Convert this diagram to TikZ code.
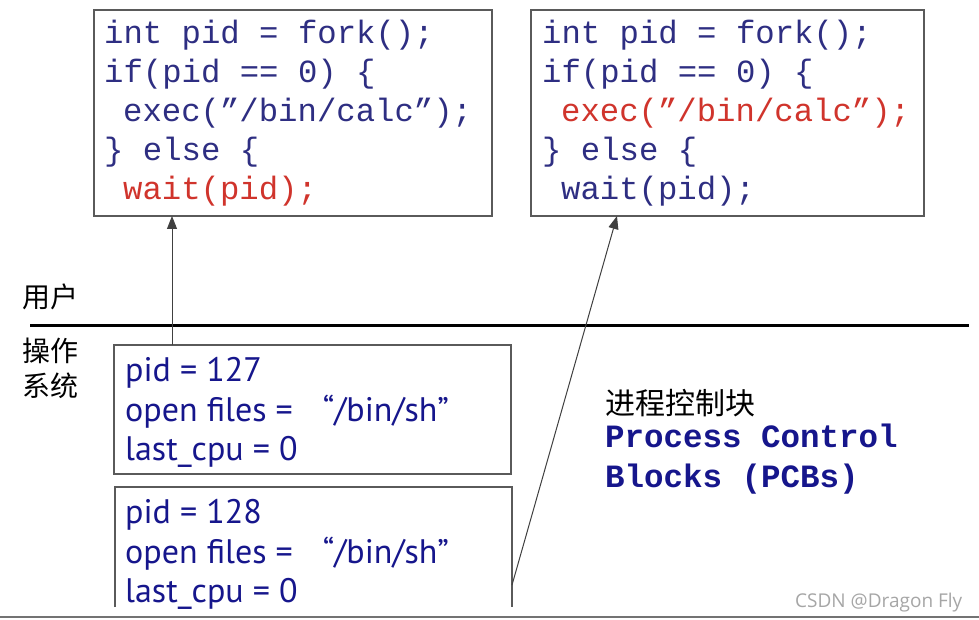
\documentclass[tikz,border=0pt]{standalone}
\usepackage{fontspec}
\setmainfont{Liberation Serif}
\newfontfamily\codefont{Liberation Mono}
\newfontfamily\pcbfont{PT Sans}
\newfontfamily\cjk{Noto Sans CJK SC}
\newfontfamily\wmfont{Open Sans}
\usetikzlibrary{arrows.meta}
\definecolor{codeblue}{HTML}{2E2E82}
\definecolor{codered}{HTML}{D0342C}
\definecolor{pcbblue}{HTML}{16168C}
\definecolor{boxgray}{HTML}{5A5A5A}
\tikzset{
  x=1pt, y=-1pt,
  codebox/.style={draw=boxgray, line width=1.4pt},
  codeline/.style={anchor=base west, inner sep=0pt, font=\codefont\fontsize{32.3}{36}\selectfont, text=codeblue},
  pcbline/.style={anchor=base west, inner sep=0pt, font=\pcbfont\fontsize{34}{38}\selectfont, text=pcbblue},
  cjklabel/.style={anchor=base west, inner sep=0pt, font=\cjk\fontsize{28}{32}\selectfont, text=black},
  pcbtitle/.style={anchor=base west, inner sep=0pt, font=\codefont\bfseries\fontsize{32.5}{36}\selectfont, text=pcbblue},
  arr/.style={draw=black!75, line width=1pt, -{Triangle[length=13pt,width=10pt]}}
}
\begin{document}
\begin{tikzpicture}
\useasboundingbox (0,0) rectangle (979,620);
\fill[white] (0,0) rectangle (979,620);

% code boxes
\draw[codebox] (94,10) rectangle (492,216);
\draw[codebox] (531,10) rectangle (924,216);

\node[codeline] (c1l1) at (104,44) {int pid = fork();};
\node[codeline] (c1l2) at (104,83) {if(pid == 0) \{};
\node[codeline] (c1l3) at (123,122) {exec(”/bin/calc”);};
\node[codeline] (c1l4) at (104,161) {\} else \{};
\node[codeline, text=codered] (c1l5) at (123,200) {wait(pid);};

\node[codeline] (c2l1) at (542,44) {int pid = fork();};
\node[codeline] (c2l2) at (542,83) {if(pid == 0) \{};
\node[codeline, text=codered] (c2l3) at (561,122) {exec(”/bin/calc”);};
\node[codeline] (c2l4) at (542,161) {\} else \{};
\node[codeline] (c2l5) at (561,200) {wait(pid);};

% separator
\draw[line width=3pt] (30,325) -- (969,325);
\node[cjklabel] (user) at (22,307) {用户};
\node[cjklabel] (os1) at (22,361) {操作};
\node[cjklabel] (os2) at (22,396) {系统};

% PCB boxes
\draw[codebox] (114,345) rectangle (511,474);
\draw[codebox] (115,607) -- (115,487) -- (512,487) -- (512,607);

\node[pcbline] (p1a) at (125,381) {pid = 127};
\node[pcbline] (p1b) at (125,421) {open files =\hspace{30pt}“/bin/sh”};
\node[pcbline] (p1c) at (125,460) {last\_cpu = 0};
\node[pcbline] (p2a) at (125,523) {pid = 128};
\node[pcbline] (p2b) at (125,563) {open files =\hspace{30pt}“/bin/sh”};
\node[pcbline] (p2c) at (125,602) {last\_cpu = 0};

% arrows
\coordinate (a1s) at (172,345);
\coordinate (a1e) at (172,216);
\coordinate (a2s) at (512,585);
\coordinate (a2e) at (617,216);
\draw[arr] (a1s) -- (a1e);
\draw[arr] (a2s) -- (a2e);

% PCB label
\node[cjklabel, font=\cjk\fontsize{30}{34}\selectfont] (pcbcn) at (605,414) {进程控制块};
\node[pcbtitle] (pcben1) at (605,447) {Process Control};
\node[pcbtitle] (pcben2) at (605,487) {Blocks (PCBs)};

% watermark
\node[anchor=base west, inner sep=0pt, font=\wmfont\fontsize{19}{22}\selectfont, text=black!35] (wm) at (795,607) {CSDN @Dragon Fly};

% bottom frame line
\draw[black!55, line width=2pt] (0,617) -- (979,617);
\end{tikzpicture}
\end{document}
